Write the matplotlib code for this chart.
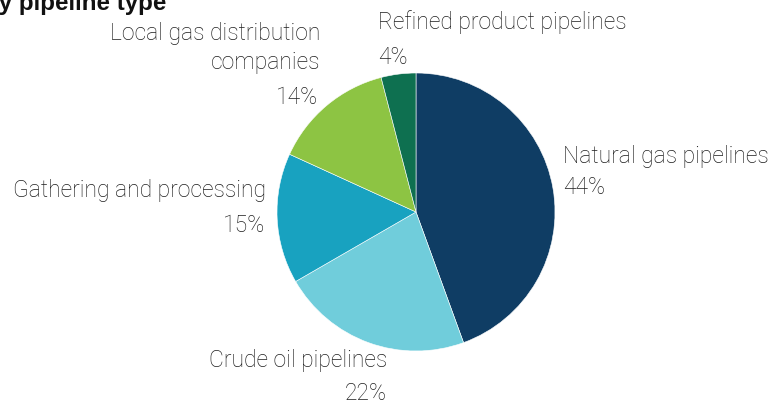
import matplotlib
matplotlib.use("Agg")
from matplotlib import pyplot as plt

labels = ["Natural gas pipelines", "Crude oil pipelines", "Gathering and processing",
          "Local gas distribution\ncompanies", "Refined product pipelines"]
shares = [44, 22, 15, 14, 4]
colors = ["#0f3d64", "#70cddb", "#18a2c0", "#8dc443", "#0e7050"]

W, H = 772, 404
fig = plt.figure(figsize=(W / 100, H / 100), dpi=100)

# pie centred at (416, 212) px, radius 139 px
cx, cy, r = 416, 212, 139
ax = fig.add_axes([(cx - r) / W, (H - cy - r) / H, 2 * r / W, 2 * r / H])
ax.pie(shares, colors=colors, startangle=90, counterclock=False,
       wedgeprops=dict(edgecolor="white", linewidth=0.4))
ax.set_xlim(-1, 1)
ax.set_ylim(-1, 1)
ax.set_aspect("equal")
ax.axis("off")

font = dict(family="Roboto", weight="light", fontsize=16.5, color="#1e1e1e")

def put(x, y, s, ha):
    fig.text(x / W, 1 - y / H, s, ha=ha, va="center", linespacing=1.3, **font)

# label name / percentage positions in pixels
put(378, 22, labels[4], "left")
put(378, 58, f"{shares[4]}%", "left")
put(320, 48, labels[3], "right")
put(318, 97, f"{shares[3]}%", "right")
put(563, 157, labels[0], "left")
put(563, 188, f"{shares[0]}%", "left")
put(266, 190, labels[2], "right")
put(265, 225, f"{shares[2]}%", "right")
put(387, 361, labels[1], "right")
put(387, 394, f"{shares[1]}%", "right")

# title is cropped at the top-left in the source
fig.text(166 / W, 1 - 10 / H, "by pipeline type", ha="right", va="baseline",
         family="Liberation Sans", weight="bold", fontsize=17.4, color="#111111")

fig.savefig("out.png", dpi=100)
